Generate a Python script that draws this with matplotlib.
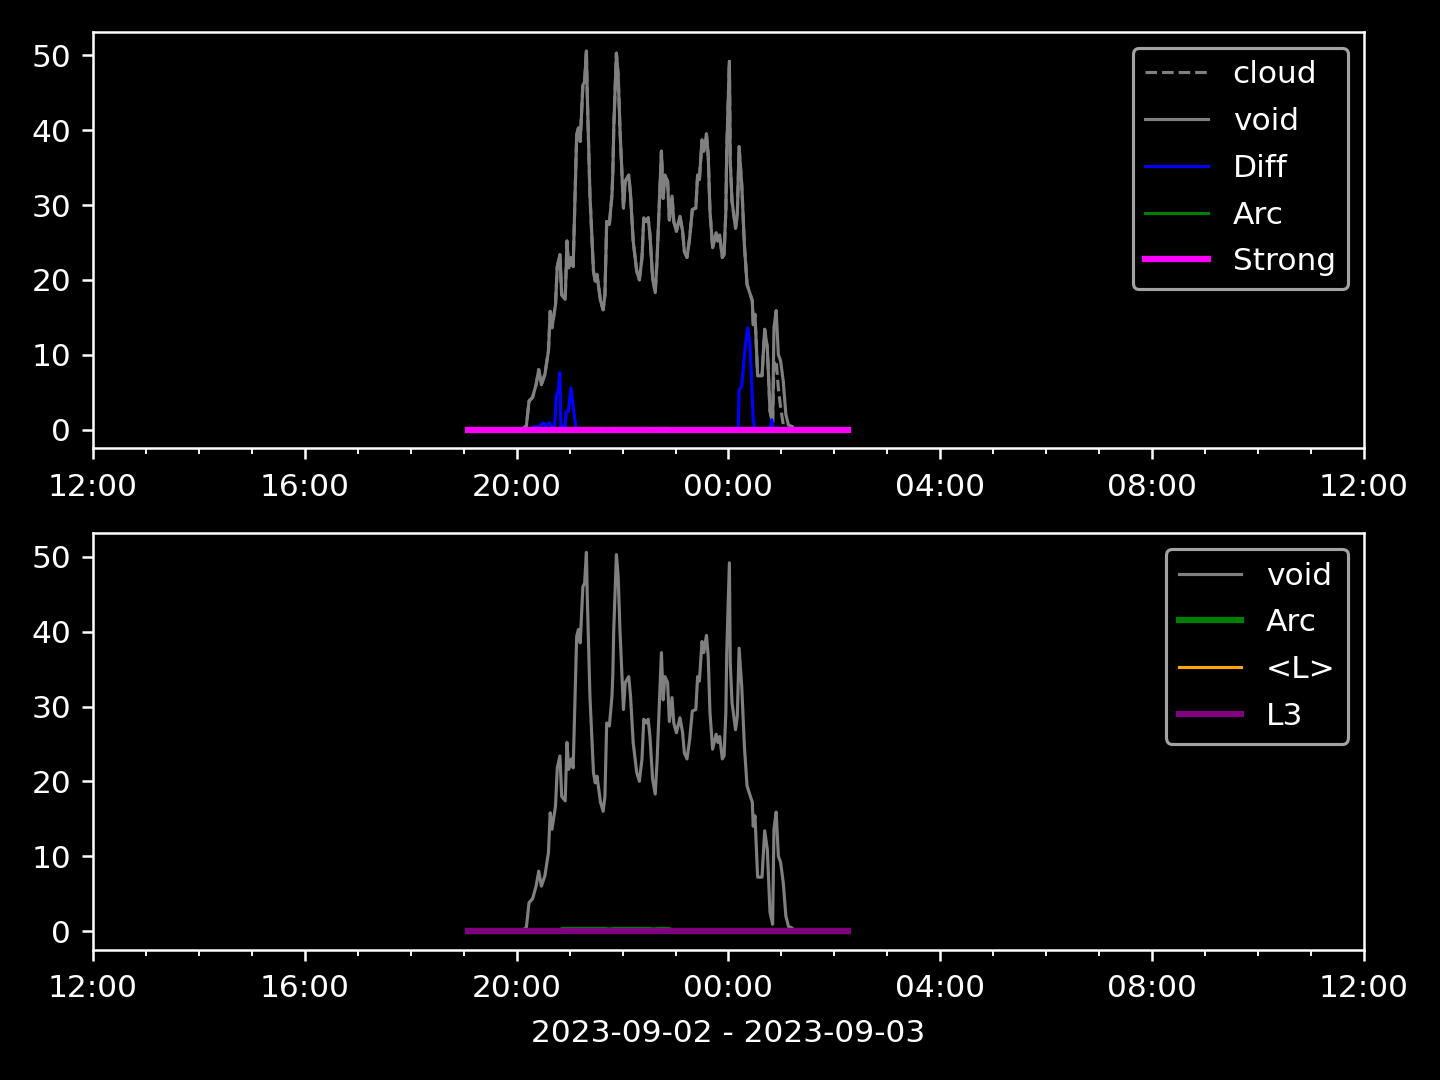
import matplotlib
matplotlib.use("Agg")
import matplotlib.pyplot as plt
import matplotlib.dates as mdates
import pandas as pd
import numpy as np

plt.style.use('dark_background')

# minutes after 2023-09-02 19:00
void_min = [5, 66, 71, 74, 78, 82, 85, 88, 92, 96, 98, 100, 104, 106, 109, 111, 115, 117, 119, 122,
            124, 128, 130, 132, 135, 137, 139, 140, 143, 147, 149, 151, 155, 158, 160, 162, 165, 168,
            169, 170, 173, 175, 177, 181, 183, 187, 189, 192, 196, 199, 202, 204, 207, 209, 211, 214,
            217, 219, 222, 224, 226, 228, 231, 233, 236, 238, 241, 245, 248, 250, 253, 256, 259, 263,
            265, 267, 270, 272, 275, 277, 279, 282, 286, 288, 290, 293, 295, 297, 298, 301, 302, 304,
            306, 308, 310, 312, 315, 318, 321, 327, 328, 330, 333, 338, 341, 344, 347, 350, 351.5,
            354, 356.5, 359, 362, 365, 368, 372, 375, 435]
void_val = [0, 0, 0.5, 3.8, 4.3, 6, 8, 6, 7.4, 10.5, 15.8, 13.6, 16.7, 21.8, 23.4, 18, 17.4, 25.2, 21.6, 23,
            21.8, 39.4, 40.3, 38.5, 46, 46.5, 50.6, 44.7, 31.4, 21.2, 19.8, 20.7, 17.2, 16, 18, 27.8, 27.4, 31.4,
            34.5, 40.3, 50.3, 47.4, 40.3, 29.6, 33.2, 34, 31.4, 25.2, 21.2, 20, 23, 28.3, 27.8, 28.3, 26, 20.3,
            18.3, 22.5, 31.4, 37.2, 30.9, 34, 33.2, 28, 31.2, 27.8, 26.5, 28.5, 26.5, 23.8, 23, 25.6, 29.4, 29.6,
            34, 33.4, 38.7, 37.2, 39.5, 36.7, 29.2, 24.3, 26.3, 25.2, 26, 23, 23.4, 29.2, 37.2, 49.2, 35.8, 30.5,
            28.7, 26.9, 28.7, 37.8, 32.7, 24.7, 19.4, 17.2, 14, 15.4, 7.2, 7.2, 13.4, 10.9, 2.5, 0.9, 13.6,
            15.9, 10, 9.2, 6.5, 2, 0.6, 0.4, 0, 0]

cloud_val = list(void_val)
cloud_val[108:115] = [9.0, 9.3, 5.5, 3.0, 0.7, 0.2, 0.1]

diff_min = [5, 75, 80, 85, 90, 93, 97, 100, 103, 105, 107, 109, 110, 115, 116, 118.5, 121.5, 124, 127, 130,
            311, 312, 315, 318.7, 321.7, 324.3, 326.3, 328, 330, 347, 349, 351, 435]
diff_val = [0, 0, 0.4, 0.3, 0.9, 0.5, 0.9, 0.3, 0.5, 4.7, 5, 7.6, 0.5, 0.5, 2.4, 2.4, 5.6, 3.1, 0.3, 0,
            0, 5.3, 5.8, 10.7, 13.6, 11.6, 6.2, 1.3, 0, 0, 1.3, 0, 0]

arc_min = [5, 110, 112, 160, 165, 170, 210, 215, 220, 232, 235, 435]
arc_val = [0, 0, 0.15, 0.15, 0.05, 0.15, 0.15, 0.05, 0.15, 0.15, 0, 0]

flat_min = [5, 435]
strong_val = [0, 0]
lmean_val = [0, 0]
l3_val = [0, 0]

base = pd.Timestamp('2023-09-02 19:00')
def to_t(m):
    return base + pd.to_timedelta(np.array(m, dtype=float), unit='m')

t_void = to_t(void_min)
t_diff = to_t(diff_min)
t_arc = to_t(arc_min)
t_flat = to_t(flat_min)

fig, (ax1, ax2) = plt.subplots(2, 1, figsize=(6.4, 4.8), dpi=225)
fig.subplots_adjust(left=0.0646, right=0.9472, top=0.9704, bottom=0.1204, hspace=0.204)

ax1.plot(t_void, cloud_val, color='gray', lw=1, ls='--', label='cloud')
ax1.plot(t_void, void_val, color='gray', lw=1, label='void')
ax1.plot(t_diff, diff_val, color='blue', lw=1, label='Diff')
ax1.plot(t_arc, arc_val, color='green', lw=1, label='Arc')
ax1.plot(t_flat, strong_val, color='magenta', lw=2, label='Strong')
ax1.legend(loc='upper right', labelspacing=0.57)

ax2.plot(t_void, void_val, color='gray', lw=1, label='void')
ax2.plot(t_arc, arc_val, color='green', lw=2, label='Arc')
ax2.plot(t_flat, lmean_val, color='orange', lw=1, label='<L>')
ax2.plot(t_flat, l3_val, color='purple', lw=2, label='L3')
ax2.legend(loc='upper right', labelspacing=0.57)
ax2.set_xlabel('2023-09-02 - 2023-09-03', labelpad=5)

for ax in (ax1, ax2):
    ax.set_xlim(pd.Timestamp('2023-09-02 12:00'), pd.Timestamp('2023-09-03 12:00'))
    ax.xaxis.set_major_locator(mdates.HourLocator(byhour=range(0, 24, 4)))
    ax.xaxis.set_minor_locator(mdates.HourLocator())
    ax.xaxis.set_major_formatter(mdates.DateFormatter('%H:%M'))
    ax.tick_params(axis='x', which='major', pad=4.2)

plt.savefig('out.png')
